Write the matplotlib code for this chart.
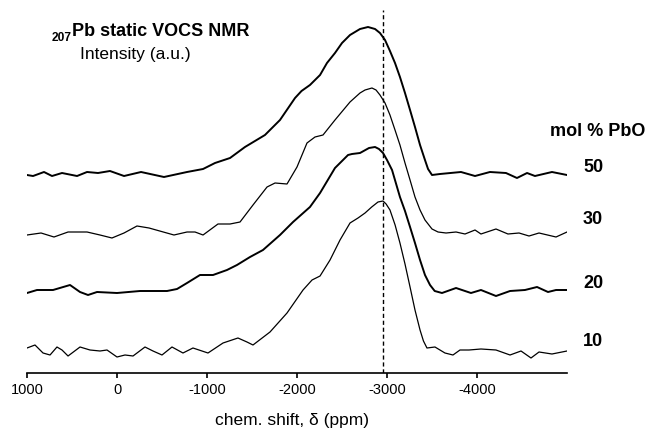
import matplotlib
matplotlib.use("Agg")
import matplotlib.pyplot as plt
import numpy as np

plt.rcParams['font.family'] = ['Liberation Sans', 'DejaVu Sans']

# spectra: chemical shift (ppm) and intensity above each baseline (a.u.)
ppm_50 = [1000, 933, 811, 722, 611, 444, 333, 211, 78, -78, -267, -522, -778, -956, -1089,
          -1256, -1422, -1644, -1811, -1978, -2050, -2144, -2256, -2333, -2422, -2500, -2589,
          -2700, -2789, -2867, -2922, -2978, -3033, -3089, -3144, -3200, -3256, -3311, -3367,
          -3422, -3456, -3500, -3589, -3822, -3978, -4144, -4322, -4444, -4556,
          -4644, -4833, -5000]
int_50 = [0, -1, 3, -1, 2, -1, 3, 2, 4, -1, 3, -2, 3, 6, 12,
          17, 28, 40, 55, 77, 84, 90, 100, 112, 122, 132, 140,
          146, 148, 146, 142, 135, 124, 112, 98, 82, 65, 48, 30,
          15, 6, 0, 1, 3, -1, 3, 2, -3, 2,
          -1, 3, 0]

ppm_30 = [1000, 844, 700, 544, 333, 189, 56, -78, -222, -356, -633, -778, -867, -956, -1122,
          -1256, -1367, -1511, -1667, -1756, -1889, -2000, -2111, -2200, -2289, -2422, -2589,
          -2700, -2756, -2833, -2878, -2922, -2978, -3033, -3089, -3144, -3200, -3256, -3311,
          -3367, -3422, -3500, -3567, -3656, -3767, -3867,
          -3978, -4044, -4211, -4344, -4467, -4578, -4689, -4878, -5000]
int_30 = [0, 2, -2, 3, 3, 0, -3, 2, 9, 7, 0, 3, 3, 0, 11,
          11, 13, 30, 48, 52, 51, 68, 92, 98, 100, 115, 133,
          142, 145, 147, 145, 140, 132, 120, 105, 90, 72, 55, 38,
          25, 15, 6, 3, 2, 3, 1,
          5, 1, 6, 1, 2, -1, 2, -2, 3]

ppm_20 = [1000, 889, 711, 522, 411, 322, 222, 0, -256, -556, -667, -778, -922, -1067, -1222,
          -1333, -1478, -1622, -1811, -1956, -2144, -2256, -2422, -2567, -2611, -2700, -2800,
          -2867, -2911, -2956, -3000, -3056, -3144, -3200, -3256, -3311, -3367, -3422, -3478,
          -3530, -3611, -3767, -3933, -4044, -4211, -4367, -4533,
          -4667, -4789, -4878, -5000]
int_20 = [0, 3, 3, 8, 1, -2, 1, 0, 2, 2, 4, 10, 18, 18, 23,
          28, 36, 43, 58, 71, 86, 100, 125, 138, 139, 140, 145,
          146, 144, 140, 133, 123, 96, 82, 66, 50, 33, 18, 8,
          2, 0, 5, 0, 3, -3, 2, 3,
          6, 1, 3, 3]

ppm_10 = [1000, 911, 822, 744, 667, 611, 544, 411, 300, 189, 111, 0, -89, -178, -311,
          -400, -500, -611, -733, -844, -1011, -1178, -1344, -1444, -1511, -1700, -1889,
          -2067, -2167, -2256, -2367, -2478, -2589, -2678, -2756, -2830, -2900, -2956, -2990,
          -3033, -3090, -3144, -3200, -3256, -3311, -3367, -3405, -3444, -3533, -3644, -3733,
          -3811, -3911, -4044, -4211, -4367, -4489, -4600, -4689, -4833, -5000]
int_10 = [0, 3, -5, -7, 1, -2, -8, 1, -2, -3, -2, -9, -7, -8, 1,
          -3, -7, 1, -5, 0, -5, 5, 10, 6, 3, 16, 35,
          58, 68, 72, 88, 108, 125, 130, 135, 141, 146, 147, 144,
          138, 123, 105, 84, 61, 38, 18, 7, 0, 1, -5, -7,
          -2, -2, -1, -2, -7, -3, -10, -4, -6, -3]

compositions = ['50', '30', '20', '10']
offsets = [198, 138, 80, 25]
shift_ref = -2956

spectra = [(ppm_50, int_50), (ppm_30, int_30), (ppm_20, int_20), (ppm_10, int_10)]
widths = [1.4, 0.9, 1.4, 0.9]

W, H = 647, 442
fig = plt.figure(figsize=(W / 100, H / 100), dpi=100)
ax = fig.add_axes([27 / W, (H - 373) / H, 540 / W, 373 / H])

for (x, y), off, lw in zip(spectra, offsets, widths):
    ax.plot(x, np.array(y) + off, color='black', lw=lw, solid_joinstyle='round')

ax.axvline(shift_ref, ymin=0, ymax=363 / 373, color='black', lw=1.0, ls=(0, (3, 2)))

ax.set_xlim(1000, -5000)
ax.set_ylim(0, 373)
for s in ['top', 'right', 'left']:
    ax.spines[s].set_visible(False)
ax.spines['bottom'].set_linewidth(1.2)
ax.set_yticks([])
ticks = [1000, 0, -1000, -2000, -3000, -4000]
ax.set_xticks(ticks)
ax.set_xticklabels([str(t) for t in ticks], fontsize=10.5)
ax.tick_params(axis='x', direction='out', length=3.5, width=1.2, pad=4)

fig.text(292 / W, 1 - 421 / H, 'chem. shift, δ (ppm)', ha='center', va='center', fontsize=12.5)

# title block
fig.text(52 / W, 1 - 38 / H, '207', ha='left', va='center', fontsize=8.6, fontweight='bold')
fig.text(72 / W, 1 - 31 / H, 'Pb static VOCS NMR', ha='left', va='center', fontsize=13, fontweight='bold')
fig.text(80 / W, 1 - 54 / H, 'Intensity (a.u.)', ha='left', va='center', fontsize=12.5)

# composition labels
fig.text(550 / W, 1 - 132 / H, 'mol % PbO', ha='left', va='center', fontsize=13, fontweight='bold')
label_y = [168, 220, 283, 342]
for c, yy in zip(compositions, label_y):
    fig.text(583 / W, 1 - yy / H, c, ha='left', va='center', fontsize=13, fontweight='bold')

fig.savefig('out.png', dpi=100)
